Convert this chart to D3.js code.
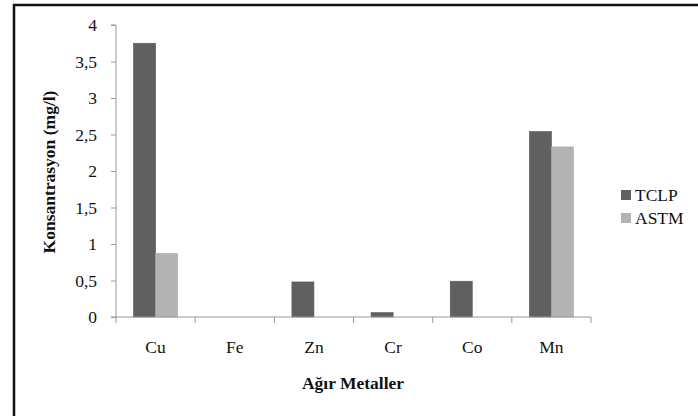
<!DOCTYPE html>
<html><head><meta charset="utf-8">
<script src="https://cdn.jsdelivr.net/npm/d3@7"></script>
<style>
svg text{font-family:"Liberation Serif","Tinos","Times New Roman",serif !important;}
</style>
</head><body style="margin:0;background:#fff">
<script>
const categories = ["Cu","Fe","Zn","Cr","Co","Mn"];
const seriesNames = ["TCLP","ASTM"];
const tclp = [3.75, 0, 0.48, 0.06, 0.49, 2.54];
const astm = [0.87, 0, 0, 0, 0, 2.33];
const yTicks = [0,0.5,1,1.5,2,2.5,3,3.5,4];
const colors = ["#606060","#b3b3b3"];
const FONT = '"Liberation Serif", Tinos, serif';
const FS = "17.5px";

const W=698,H=416;
const svg=d3.select("body").append("svg").attr("width",W).attr("height",H)
  .style("display","block").attr("font-family",FONT);
svg.append("rect").attr("width",W).attr("height",H).attr("fill","#fff");
svg.append("path").attr("d","M14,416 V5 H698").attr("fill","none").attr("stroke","#111").attr("stroke-width",2.5);

const x0=116,x1=591,yTop=25,yBot=317;
const x=d3.scaleBand().domain(categories).range([x0,x1]);
const y=d3.scaleLinear().domain([0,4]).range([yBot,yTop]);
const bw=x.bandwidth();
const barW=22;
const xs=d3.scaleBand().domain(seriesNames).range([(bw-2*barW)/2,(bw+2*barW)/2]);

const data=categories.map((c,i)=>({c,vals:[tclp[i],astm[i]]}));
const g=svg.append("g");
data.forEach(d=>{
  d.vals.forEach((v,j)=>{
    if(v<=0) return;
    g.append("rect").attr("x",x(d.c)+xs(seriesNames[j])).attr("y",y(v))
     .attr("width",xs.bandwidth()).attr("height",y(0)-y(v))
     .attr("fill",colors[j]).attr("stroke",j==0?"#555":"#aaa").attr("stroke-width",0.6);
  });
});

const ya=svg.append("g").attr("transform",`translate(${x0},0)`)
 .call(d3.axisLeft(y).tickValues(yTicks).tickSize(5).tickPadding(14).tickFormat(d=>String(d).replace(".",",")));
ya.attr("font-family",FONT).attr("font-size",FS);
ya.select(".domain").attr("stroke","#999").attr("d",`M-5,${yTop}H0V${yBot}`);
ya.selectAll(".tick line").attr("stroke","#999");
ya.selectAll("text").attr("font-family",FONT).style("font-size",FS).attr("fill","#111");

const xa=svg.append("g").attr("transform",`translate(0,${yBot})`);
xa.append("line").attr("x1",x0-5).attr("x2",x1).attr("y1",0).attr("y2",0).attr("stroke","#999");
[...categories.map(c=>x(c)), x1].forEach(t=>{
  xa.append("line").attr("x1",t).attr("x2",t).attr("y1",0).attr("y2",6).attr("stroke","#999");
});
categories.forEach(c=>{
  xa.append("text").attr("x",x(c)+bw/2).attr("y",36).attr("text-anchor","middle")
   .attr("font-family",FONT).style("font-size",FS).attr("fill","#111").text(c);
});

svg.append("text").attr("x",353).attr("y",389).attr("text-anchor","middle")
 .attr("font-family",FONT).style("font-size",FS).style("font-weight","bold").attr("fill","#111").text("Ağır Metaller");
svg.append("text").attr("transform","translate(55,172) rotate(-90)").attr("text-anchor","middle")
 .attr("font-family",FONT).style("font-size",FS).style("font-weight","bold").attr("fill","#111").text("Konsantrasyon (mg/l)");

seriesNames.forEach((s,i)=>{
  const ly=190+i*23;
  svg.append("rect").attr("x",621).attr("y",ly).attr("width",10).attr("height",10).attr("fill",colors[i]);
  svg.append("text").attr("x",635).attr("y",ly+11).attr("font-family",FONT).style("font-size",FS).attr("fill","#111").text(s);
});
</script>
</body></html>
